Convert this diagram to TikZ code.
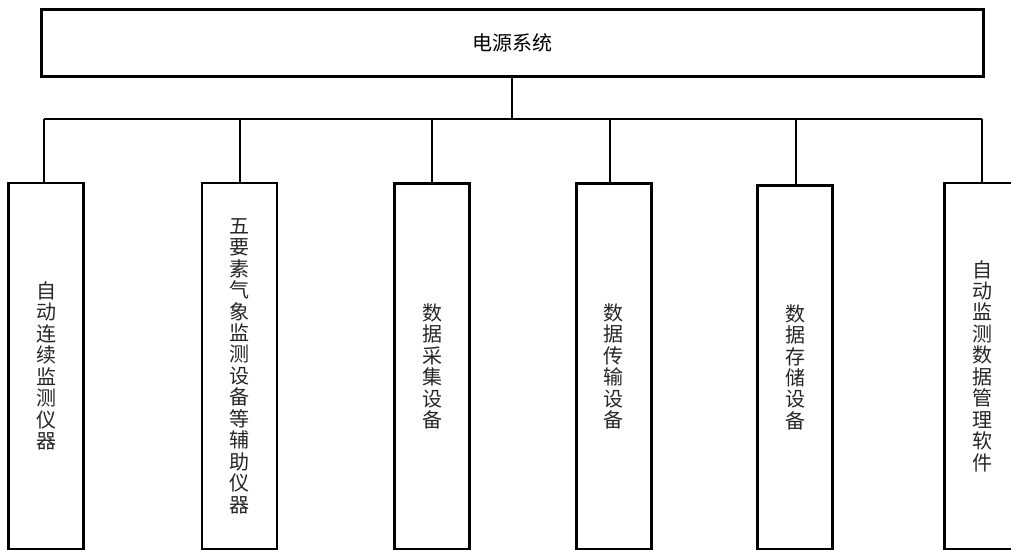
\documentclass[tikz,border=0pt]{standalone}
\usepackage{fontspec}
\newfontfamily\cjk{Noto Sans CJK SC}
\begin{document}
\begin{tikzpicture}[x=0.75pt,y=-0.75pt,
  topbox/.style={draw,line width=2pt,minimum width=942*0.75pt,minimum height=67*0.75pt,inner sep=0pt,
    font={\cjk\fontsize{15pt}{16pt}\selectfont}},
  colbox/.style={draw,line width=2pt,minimum width=75*0.75pt,inner sep=0pt,anchor=north},
  coltext/.style={align=center,inner sep=0pt,text=black!85,font={\cjk\fontsize{15pt}{16.1pt}\selectfont}},
  conn/.style={line width=1.3pt}]
\useasboundingbox (0,0) rectangle (1011,550);
\node[topbox] (top) at (512.3,43.2) {电源系统};
\coordinate (bus) at (512.3,119);
% column boxes
\node[colbox,minimum height=366*0.75pt] (b1) at (46.2,181.7) {};
\node[colbox,minimum height=366*0.75pt] (b2) at (239.5,181.7) {};
\node[colbox,minimum height=365.4*0.75pt] (b3) at (432.3,182.3) {};
\node[colbox,minimum height=365.4*0.75pt] (b4) at (613.8,182.3) {};
\node[colbox,minimum height=363.7*0.75pt] (b5) at (795.3,184) {};
\node[colbox,minimum height=366*0.75pt] (b6) at (982,181.7) {};
% attachment points on box tops
\coordinate (a1) at ([xshift=-2.5*0.75pt]b1.north);
\coordinate (a2) at ([xshift=0.5*0.75pt]b2.north);
\coordinate (a3) at ([xshift=-0.6*0.75pt]b3.north);
\coordinate (a4) at ([xshift=-3.8*0.75pt]b4.north);
\coordinate (a5) at ([xshift=0.7*0.75pt]b5.north);
\coordinate (a6) at ([xshift=-0.3*0.75pt]b6.north);
% texts
\node[coltext] (t1) at (b1.center) {自\\动\\连\\续\\监\\测\\仪\\器};
\node[coltext] (t2) at (b2.center) {五\\要\\素\\气\\象\\监\\测\\设\\备\\等\\辅\\助\\仪\\器};
\node[coltext] (t3) at (b3.center) {数\\据\\采\\集\\设\\备};
\node[coltext] (t4) at (b4.center) {数\\据\\传\\输\\设\\备};
\node[coltext] (t5) at (b5.center) {数\\据\\存\\储\\设\\备};
\node[coltext] (t6) at (b6.center) {自\\动\\监\\测\\数\\据\\管\\理\\软\\件};
% connectors
\draw[conn] (top.south) -- (bus);
\draw[conn] (a1 |- bus) -- (a6 |- bus);
\foreach \a in {a1,a2,a3,a4,a5,a6}
  \draw[conn] (\a) -- (\a |- bus);
\end{tikzpicture}
\end{document}
